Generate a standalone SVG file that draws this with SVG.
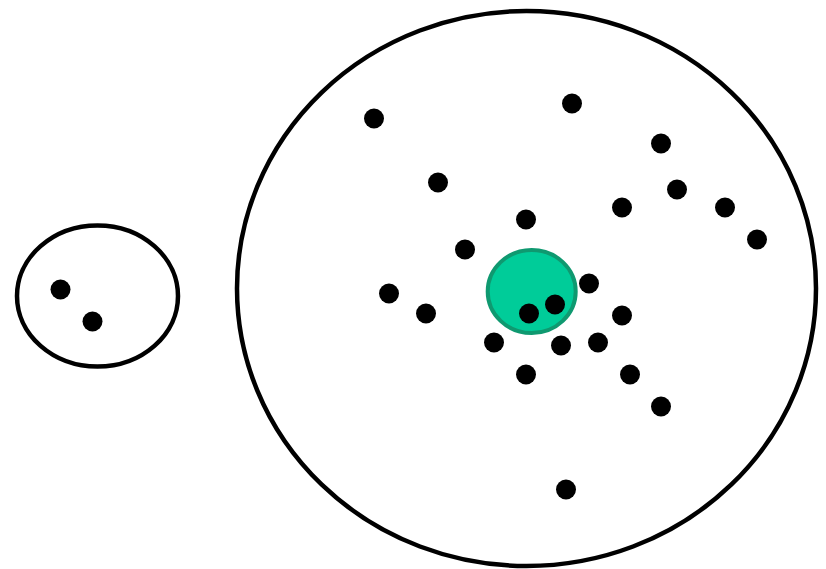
<svg xmlns="http://www.w3.org/2000/svg" width="826" height="569" viewBox="0 0 826 569">
<style>
.ring{fill:none;stroke:#000;stroke-width:4.5}
.dot{fill:#000}
.core{fill:#00CC99;stroke:#0F9970;stroke-width:4}
</style>
<rect width="826" height="569" fill="#fff"/>
<g id="small-cluster">
<ellipse class="ring" cx="97.5" cy="296" rx="80.5" ry="70.5"/>
<circle class="dot" cx="60.5" cy="289.5" r="10"/>
<circle class="dot" cx="92.5" cy="321.5" r="10"/>
</g>
<g id="big-cluster">
<ellipse class="ring" cx="526.5" cy="288.5" rx="289.5" ry="277.5"/>
<ellipse class="core" cx="531.7" cy="291.5" rx="44" ry="41.5"/>
<circle class="dot" cx="374" cy="118.5" r="10"/>
<circle class="dot" cx="572" cy="103.5" r="10"/>
<circle class="dot" cx="661" cy="143.5" r="10"/>
<circle class="dot" cx="438" cy="182.5" r="10"/>
<circle class="dot" cx="526" cy="219.5" r="10"/>
<circle class="dot" cx="622" cy="207.5" r="10"/>
<circle class="dot" cx="677" cy="189.5" r="10"/>
<circle class="dot" cx="725" cy="207.5" r="10"/>
<circle class="dot" cx="757" cy="239.5" r="10"/>
<circle class="dot" cx="465" cy="249.5" r="10"/>
<circle class="dot" cx="589" cy="283.5" r="10"/>
<circle class="dot" cx="555" cy="304.5" r="10"/>
<circle class="dot" cx="529" cy="313.5" r="10"/>
<circle class="dot" cx="389" cy="293.5" r="10"/>
<circle class="dot" cx="426" cy="313.5" r="10"/>
<circle class="dot" cx="494" cy="342.5" r="10"/>
<circle class="dot" cx="561" cy="345.5" r="10"/>
<circle class="dot" cx="598" cy="342.5" r="10"/>
<circle class="dot" cx="622" cy="315.5" r="10"/>
<circle class="dot" cx="526" cy="374.5" r="10"/>
<circle class="dot" cx="630" cy="374.5" r="10"/>
<circle class="dot" cx="661" cy="406.5" r="10"/>
<circle class="dot" cx="566" cy="489.5" r="10"/>
</g>
</svg>
